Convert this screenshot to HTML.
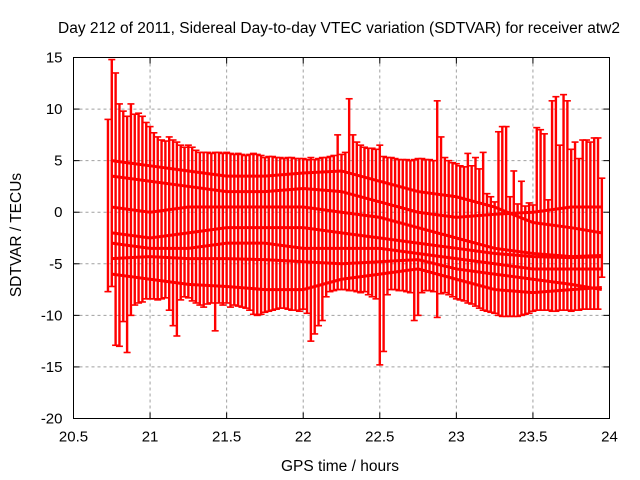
<!DOCTYPE html>
<html><head><meta charset="utf-8"><style>
body{margin:0;background:#fff}
svg{display:block;font-family:"Liberation Sans",sans-serif}
</style></head><body>
<svg id="chart" width="640" height="480">
<text x="339" y="33" text-anchor="middle" font-size="15.5">Day 212 of 2011, Sidereal Day-to-day VTEC variation (SDTVAR) for receiver atw2</text>
<text x="340" y="471" text-anchor="middle" font-size="15.5">GPS time / hours</text>
<text transform="translate(21,235) rotate(-90)" text-anchor="middle" font-size="15.5">SDTVAR / TECUs</text>
<g id="grid"></g>
<g id="marks"></g>
<g id="axes"></g>
</svg>
<script>
const xTicks=[20.5,21,21.5,22,22.5,23,23.5,24];
const xTickLabels=["20.5","21","21.5","22","22.5","23","23.5","24"];
const yTicks=[15,10,5,0,-5,-10,-15,-20];
const yTickLabels=["15","10","5","0","-5","-10","-15","-20"];
const tStart=20.725, tStep=0.025;
const hiVals=[9,14.8,13.5,10.5,9.8,9.3,10.5,9.5,9.6,9.3,8.7,8.3,7.7,7.3,7,6.9,7.3,7,6.8,6.5,6.3,6.5,6.3,6,5.8,5.8,5.8,5.7,5.8,5.8,5.7,5.8,5.7,5.6,5.7,5.6,5.5,5.6,5.7,5.6,5.5,5.3,5.4,5.4,5.3,5.3,5.2,5.3,5.3,5.2,5.2,5.2,5.1,5.3,5.1,5.2,5.3,5.3,5.4,5.5,7.5,5.6,5.8,11,7.5,6.8,6.5,6.3,6.2,6.2,6.1,6.5,5.4,5.3,5.3,5.2,5.1,5.1,5.1,5.0,5.1,5.2,5.2,5.1,5.1,5.0,10.8,7.3,5.3,5.0,4.8,4.7,4.5,4.4,5.7,4.5,5.3,4.2,5.8,1.8,1.5,1.0,7.8,8.3,8.3,1.5,4,0.8,3,0.6,0.9,0.7,8.2,8.0,7.6,1.2,10.8,11.2,6.5,11.4,10.8,6.1,6.8,5.2,7,7.0,6.8,7.2,7.2,3.3];
const loVals=[-7.7,-7.2,-12.9,-13,-10.6,-13.6,-10,-9,-8.8,-8.7,-8.4,-8.4,-8.4,-8.5,-8.4,-8.3,-9.5,-11,-12,-8.5,-8.2,-8.3,-8.6,-8.8,-9,-9.2,-8.9,-8.8,-11.5,-8.8,-9,-8.8,-9.2,-9,-9.1,-9.2,-9.3,-9.5,-9.9,-10,-9.9,-9.7,-9.6,-9.5,-9.4,-9.3,-9.3,-9.4,-9.5,-9.5,-9.6,-9.4,-9.8,-12.5,-11.8,-11,-10.5,-8.2,-7.7,-7.6,-7.5,-7.5,-7.5,-7.6,-7.6,-7.7,-7.8,-7.7,-8.0,-8.2,-8.4,-14.8,-13.5,-8.0,-7.5,-7.5,-7.6,-7.6,-7.7,-7.8,-10.5,-10,-7.8,-7.6,-7.6,-7.7,-10.2,-7.9,-7.8,-8.0,-8.2,-8.4,-8.5,-8.6,-8.8,-8.9,-9.1,-9.3,-9.5,-9.6,-9.7,-9.8,-10,-10.1,-10.1,-10.1,-10.1,-10.1,-10.0,-9.9,-9.8,-9.6,-9.5,-9.5,-9.5,-9.5,-9.6,-9.6,-9.5,-9.5,-9.5,-9.6,-9.5,-9.5,-9.4,-9.4,-9.4,-9.4,-9.4,-6.3];
const bandTimes=[20.75,21,21.25,21.5,21.75,22,22.25,22.5,22.75,23,23.25,23.5,23.75,23.95];
const band1=[3.5,3,2.5,2,2,2.3,2,1,0,-0.5,-0.2,0,0.5,0.5];
const band2=[0.5,0,0.5,0.5,0.5,0.5,0,-0.5,-1.5,-2.5,-3.5,-4,-4.3,-4.2];
const band3=[-2,-2.5,-2,-1.5,-1.5,-1.5,-2,-2.5,-3,-3.5,-4,-4.3,-4.4,-4.3];
const band4=[-4.5,-4.3,-4.5,-4.5,-4.6,-4.8,-5,-4.8,-4.6,-5.5,-6,-6.5,-7,-7.5];
const band5=[-6,-6.5,-7,-7.2,-7.5,-7.5,-6.5,-6,-5.5,-6.5,-7.5,-7.8,-7.5,-7.3];
const band6=[5,4.5,4,3.5,3.5,3.8,4,3,2,1.5,0.5,-1,-1.5,-2];
const band7=[-3,-3.5,-3.5,-3,-3,-3.5,-3.5,-3.5,-4,-4.5,-5,-5.5,-5.5,-5.5];

const L=73.5,R=609.5,T=57.5,B=418.5;
const X=v=>L+(v-20.5)/3.5*(R-L);
const Y=v=>T+(15-v)/35*(B-T);
const NS="http://www.w3.org/2000/svg";
function mk(tag,attrs,parent){const e=document.createElementNS(NS,tag);for(const k in attrs)e.setAttribute(k,attrs[k]);parent.appendChild(e);return e;}
const grid=document.getElementById('grid'),marks=document.getElementById('marks'),axes=document.getElementById('axes');
xTicks.forEach((v,i)=>{
  if(i>0&&i<xTicks.length-1){const g=mk('line',{x1:X(v),x2:X(v),y1:T,y2:B,stroke:'#a0a0a0','stroke-dasharray':'3,3'},grid);
  
  }
  const t=mk('text',{x:X(v),y:B+23,'text-anchor':'middle','font-size':15},axes);t.textContent=xTickLabels[i];
  
  
  mk('line',{x1:X(v),x2:X(v),y1:B,y2:B-6,stroke:'#000'},axes);
  mk('line',{x1:X(v),x2:X(v),y1:T,y2:T+6,stroke:'#000'},axes);
});
yTicks.forEach((v,i)=>{
  if(i>0&&i<yTicks.length-1){const g=mk('line',{x1:L,x2:R,y1:Y(v),y2:Y(v),stroke:'#a0a0a0','stroke-dasharray':'3,3'},grid);
  
  }
  const t=mk('text',{x:L-11,y:Y(v)+5,'text-anchor':'end','font-size':15},axes);t.textContent=yTickLabels[i];
  
  
  mk('line',{x1:L,x2:L+6,y1:Y(v),y2:Y(v),stroke:'#000'},axes);
  mk('line',{x1:R,x2:R-6,y1:Y(v),y2:Y(v),stroke:'#000'},axes);
});
const frame=mk('rect',{x:L,y:T,width:R-L,height:B-T,fill:'none',stroke:'#000'},axes);


hiVals.forEach((h,i)=>{
  const t=tStart+i*tStep,x=X(t),y1=Y(h),y2=Y(loVals[i]);
  const g=mk('g',{stroke:'#f00','stroke-width':2.4},marks);
  
  
  mk('line',{x1:x,x2:x,y1:y1,y2:y2},g);
  mk('line',{x1:x-3.5,x2:x+3.5,y1:y1,y2:y1,'stroke-width':1.6},g);
  mk('line',{x1:x-3.5,x2:x+3.5,y1:y2,y2:y2,'stroke-width':1.6},g);
});
[band1,band2,band3,band4,band5,band6,band7].forEach(b=>{
  const p=b.map((v,i)=>X(bandTimes[i])+','+Y(v)).join(' ');
  const pl=mk('polyline',{points:p,fill:'none',stroke:'#f00','stroke-width':3},marks);
  
  
});
</script>
</body></html>
